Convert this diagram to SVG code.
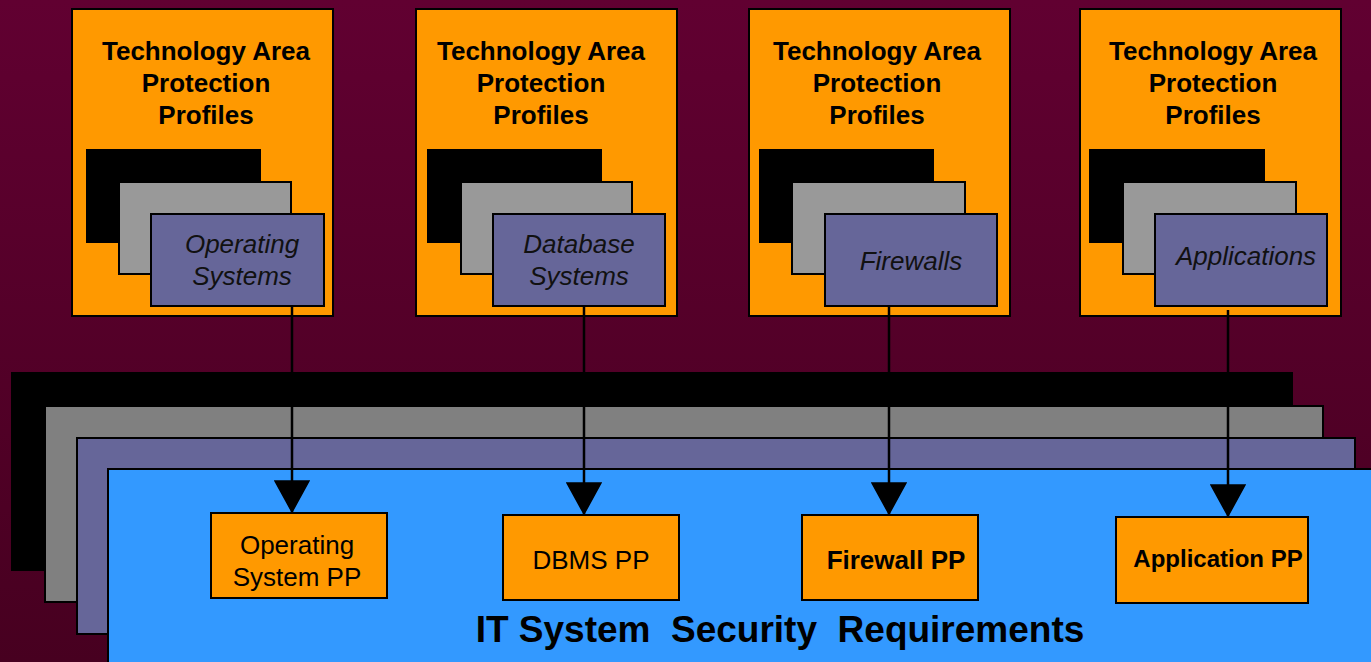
<svg xmlns="http://www.w3.org/2000/svg" width="1371" height="662" viewBox="0 0 1371 662">
<defs>
<linearGradient id="bg" x1="0" y1="0" x2="0" y2="1">
<stop offset="0" stop-color="#610031"/>
<stop offset="1" stop-color="#470020"/>
</linearGradient>
<marker id="arr" markerUnits="userSpaceOnUse" markerWidth="34" markerHeight="36" refX="32" refY="18" orient="auto" viewBox="0 0 34 36">
<path d="M1,1 L32,18 L1,35 Z" fill="#000" stroke="#000" stroke-width="1.5"/>
</marker>
</defs>
<style>
.ob{fill:#FF9900;stroke:#000;stroke-width:2}
.bk{fill:#000;stroke:#000;stroke-width:2}
.gl{fill:#999999;stroke:#000;stroke-width:2}
.gd{fill:#808080;stroke:#000;stroke-width:2}
.pu{fill:#666699;stroke:#000;stroke-width:2}
.bl{fill:#3399FF;stroke:#000;stroke-width:2}
.t{font-family:"Liberation Sans",Arial,sans-serif;font-weight:bold;font-size:26px;fill:#000;text-anchor:middle}
.i{font-family:"Liberation Sans",Arial,sans-serif;font-style:italic;font-size:26px;fill:#111;text-anchor:middle}
.n{font-family:"Liberation Sans",Arial,sans-serif;font-size:26px;fill:#000;text-anchor:middle}
.c{stroke:#000;stroke-width:2.5;fill:none}
</style>
<rect width="1371" height="662" fill="url(#bg)"/>

<g id="requirements-stack">
<rect class="bk" x="12" y="373" width="1280" height="197"/>
<rect class="gd" x="45" y="406" width="1278" height="196"/>
<rect class="pu" x="77" y="438" width="1278" height="196"/>
<rect class="bl" x="108" y="469" width="1270" height="200"/>
<text class="t" x="780" y="642" style="font-size:37px" xml:space="preserve">IT System  Security  Requirements</text>
</g>

<g id="tapp-os">
<rect class="ob" x="72" y="9" width="261" height="307"/>
<text class="t" x="206" y="60">Technology Area</text>
<text class="t" x="206" y="92">Protection</text>
<text class="t" x="206" y="124">Profiles</text>
<rect class="bk" x="87" y="150" width="173" height="92"/>
<rect class="gl" x="119" y="182" width="172" height="92"/>
<rect class="pu" x="151" y="214" width="173" height="92"/>
<text class="i" x="242" y="253">Operating</text>
<text class="i" x="242" y="285">Systems</text>
</g>

<g id="tapp-db">
<rect class="ob" x="416" y="9" width="261" height="307"/>
<text class="t" x="541" y="60">Technology Area</text>
<text class="t" x="541" y="92">Protection</text>
<text class="t" x="541" y="124">Profiles</text>
<rect class="bk" x="428" y="150" width="173" height="92"/>
<rect class="gl" x="461" y="182" width="171" height="92"/>
<rect class="pu" x="493" y="214" width="172" height="92"/>
<text class="i" x="579" y="253">Database</text>
<text class="i" x="579" y="285">Systems</text>
</g>

<g id="tapp-fw">
<rect class="ob" x="749" y="9" width="261" height="307"/>
<text class="t" x="877" y="60">Technology Area</text>
<text class="t" x="877" y="92">Protection</text>
<text class="t" x="877" y="124">Profiles</text>
<rect class="bk" x="760" y="150" width="173" height="92"/>
<rect class="gl" x="792" y="182" width="173" height="92"/>
<rect class="pu" x="825" y="214" width="172" height="92"/>
<text class="i" x="911" y="270">Firewalls</text>
</g>

<g id="tapp-app">
<rect class="ob" x="1080" y="9" width="261" height="307"/>
<text class="t" x="1213" y="60">Technology Area</text>
<text class="t" x="1213" y="92">Protection</text>
<text class="t" x="1213" y="124">Profiles</text>
<rect class="bk" x="1090" y="150" width="174" height="92"/>
<rect class="gl" x="1123" y="182" width="173" height="92"/>
<rect class="pu" x="1155" y="214" width="172" height="92"/>
<text class="i" x="1246" y="265">Applications</text>
</g>

<g id="connectors">
<line class="c" x1="292" y1="306" x2="292" y2="512" marker-end="url(#arr)"/>
<line class="c" x1="584" y1="306" x2="584" y2="514" marker-end="url(#arr)"/>
<line class="c" x1="889" y1="306" x2="889" y2="514" marker-end="url(#arr)"/>
<line class="c" x1="1228" y1="310" x2="1228" y2="516" marker-end="url(#arr)"/>
</g>

<g id="os-pp">
<rect class="ob" x="211" y="513" width="176" height="85"/>
<text class="n" x="297" y="554">Operating</text>
<text class="n" x="297" y="586">System PP</text>
</g>
<g id="dbms-pp">
<rect class="ob" x="503" y="515" width="176" height="85"/>
<text class="n" x="591" y="569">DBMS PP</text>
</g>
<g id="firewall-pp">
<rect class="ob" x="802" y="515" width="176" height="85"/>
<text class="t" x="896" y="569">Firewall PP</text>
</g>
<g id="application-pp">
<rect class="ob" x="1116" y="517" width="192" height="86"/>
<text class="t" x="1218" y="567" style="font-size:24px">Application PP</text>
</g>
</svg>
